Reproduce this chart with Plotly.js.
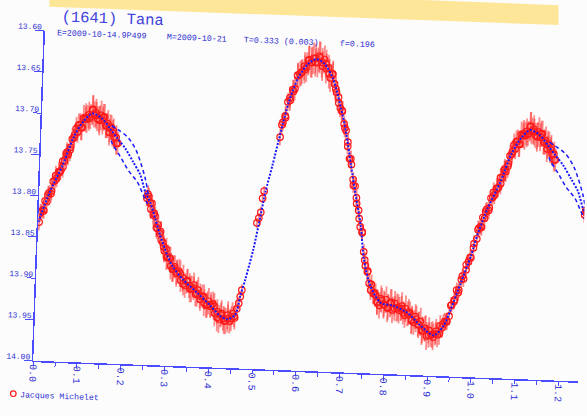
<!DOCTYPE html>
<html>
<head>
<meta charset="utf-8">
<script src="https://cdn.plot.ly/plotly-3.0.1.min.js"></script>
<style>
  html, body { margin:0; padding:0; background:#fcfcfc; overflow:hidden; width:587px; height:416px; }
  #plot { position:absolute; left:0; top:0; width:605px; height:425px;
          transform-origin:0 0; transform:matrix(1,0.038,-0.0355,1,6.6,-15.82); }
</style>
</head>
<body>
<div id="plot"></div>
<script>
// ---- data (phase, magnitude, error) ----
const obsPhase = [
  0.002,0.006,0.010,0.014,0.018,0.022,0.027,0.031,0.035,0.039,0.043,0.047,
  0.051,0.055,0.059,0.063,0.067,0.071,0.075,0.079,0.083,0.087,
  0.091,0.095,0.099,0.103,0.107,0.111,0.115,0.119,0.123,0.127,0.131,0.135,0.139,0.143,0.147,0.151,0.155,0.159,0.163,0.167,0.171,0.175,
  0.246,0.250,0.254,0.258,0.262,0.266,0.270,0.274,0.278,0.282,0.286,0.290,
  0.294,0.298,0.302,0.306,0.310,0.315,0.320,0.325,0.330,0.335,0.340,0.345,
  0.350,0.355,0.360,0.365,0.370,0.375,0.380,0.385,0.390,0.395,0.400,0.405,
  0.410,0.415,0.420,0.425,0.430,0.435,0.440,0.445,0.450,0.455,0.460,
  0.464,0.467,0.470,0.499,0.503,0.507,0.510,0.513,
  0.545,0.550,0.555,0.560,0.565,0.570,0.575,0.580,0.585,0.590,0.595,0.600,
  0.605,0.610,0.615,0.620,0.625,0.630,0.635,0.640,0.645,0.650,0.655,0.660,
  0.665,0.670,0.675,0.680,0.685,0.690,0.695,0.700,0.705,0.710,0.715,0.720,
  0.725,0.730,0.735,0.740,0.745,0.750,
  0.755,0.760,0.765,0.770,0.775,0.780,0.785,0.790,0.795,0.800,0.805,0.810,
  0.815,0.820,0.825,0.830,0.835,0.840,0.845,0.850,0.855,0.860,0.865,0.870,
  0.875,0.880,0.885,0.890,0.895,0.900,0.905,0.910,0.915,0.920,0.925,0.930,
  0.935,0.940,0.945,0.950,0.955,0.960,0.965,0.970,0.975,0.980,0.985,0.990,0.995
];
const obsMag = [
  13.832,13.819,13.817,13.806,13.807,13.796,13.797,13.782,13.781,13.778,13.770,13.769,
  13.757,13.757,13.748,13.749,13.743,13.730,13.728,13.717,13.721,13.712,
  13.716,13.704,13.705,13.705,13.700,13.702,13.694,13.699,13.697,13.704,13.705,13.700,13.706,13.702,13.712,13.710,13.720,13.714,13.721,13.726,13.726,13.733,
  13.798,13.796,13.804,13.804,13.818,13.819,13.833,13.830,13.840,13.848,13.851,13.861,
  13.859,13.868,13.869,13.879,13.883,13.880,13.888,13.885,13.896,13.893,13.902,13.896,
  13.902,13.906,13.905,13.912,13.907,13.914,13.914,13.922,13.925,13.920,13.926,13.923,
  13.934,13.932,13.941,13.934,13.940,13.943,13.940,13.943,13.934,13.937,13.928,
  13.921,13.913,13.905,13.823,13.817,13.810,13.793,13.784,
  13.718,13.700,13.692,13.675,13.673,13.660,13.659,13.643,13.641,13.638,13.631,13.632,
  13.623,13.626,13.621,13.626,13.626,13.620,13.626,13.622,13.633,13.632,13.644,13.640,
  13.651,13.661,13.667,13.680,13.684,13.699,13.707,13.726,13.741,13.748,13.766,13.774,
  13.795,13.803,13.823,13.830,13.853,13.870,
  13.877,13.891,13.892,13.903,13.905,13.914,13.917,13.911,13.916,13.910,13.919,13.914,
  13.922,13.914,13.919,13.922,13.920,13.925,13.920,13.926,13.925,13.934,13.936,13.932,
  13.938,13.935,13.945,13.943,13.952,13.945,13.950,13.953,13.949,13.950,13.939,13.941,
  13.934,13.934,13.927,13.913,13.909,13.895,13.895,13.882,13.881,13.864,13.860,13.855,13.843
];
const obsErr = [
  0.010,0.009,0.010,0.011,0.010,0.009,0.011,0.010,0.010,0.011,0.012,0.011,
  0.012,0.013,0.012,0.013,0.014,0.013,0.012,0.014,0.013,0.014,
  0.015,0.016,0.015,0.017,0.016,0.015,0.018,0.016,0.017,0.015,0.016,0.018,0.017,0.016,0.015,0.017,0.016,0.015,0.016,0.014,0.015,0.014,
  0.010,0.011,0.010,0.011,0.012,0.011,0.012,0.012,0.013,0.012,0.013,0.014,
  0.014,0.015,0.014,0.016,0.015,0.014,0.016,0.015,0.014,0.016,0.015,0.014,
  0.015,0.016,0.014,0.015,0.016,0.015,0.014,0.016,0.015,0.016,0.014,0.015,
  0.016,0.015,0.017,0.016,0.015,0.016,0.017,0.015,0.014,0.013,0.012,
  0.008,0.007,0.007,0.006,0.006,0.007,0.006,0.006,
  0.010,0.011,0.012,0.011,0.013,0.012,0.014,0.015,0.016,0.015,0.017,0.018,
  0.017,0.018,0.019,0.017,0.018,0.019,0.018,0.017,0.018,0.016,0.017,0.015,
  0.014,0.013,0.012,0.011,0.012,0.010,0.011,0.010,0.009,0.010,0.009,0.010,
  0.009,0.010,0.009,0.010,0.009,0.010,
  0.010,0.011,0.012,0.013,0.014,0.015,0.016,0.015,0.017,0.016,0.015,0.017,
  0.016,0.015,0.017,0.016,0.015,0.014,0.016,0.015,0.014,0.016,0.015,0.016,
  0.015,0.017,0.016,0.015,0.017,0.016,0.015,0.016,0.014,0.015,0.013,0.012,
  0.011,0.010,0.010,0.009,0.010,0.009,0.010,0.009,0.010,0.009,0.010,0.009,0.010
];
// second night of observations
const obs2Phase = [
  0.004,0.012,0.020,0.028,0.036,0.044,0.052,0.060,0.068,0.076,0.084,0.092,0.100,0.108,0.116,0.124,0.132,0.140,0.148,0.156,0.164,0.172,
  0.248,0.256,0.264,0.272,0.280,0.288,0.296,0.304,0.312,0.320,0.328,0.336,0.344,0.352,0.360,0.368,0.376,0.384,0.392,0.400,0.408,0.416,0.424,0.432,0.440,0.448,0.456,
  0.548,0.556,0.564,0.572,0.580,0.588,0.596,0.604,0.612,0.620,0.628,0.636,0.644,0.652,0.660,0.668,0.676,0.684,0.692,0.700,0.708,0.716,0.724,0.732,0.740,0.748,
  0.756,0.764,0.772,0.780,0.788,0.796,0.804,0.812,0.820,0.828,0.836,0.844,0.852,0.860,0.868,0.876,0.884,0.892,0.900,0.908,0.916,0.924,0.932,0.940,0.948,0.956,0.964,0.972,0.980,0.988,0.996
];
const obs2Mag = [
  13.821,13.818,13.799,13.794,13.775,13.771,13.764,13.746,13.740,13.725,13.713,13.715,13.703,13.704,13.693,13.700,13.706,13.702,13.712,13.715,13.718,13.733,
  13.793,13.811,13.816,13.834,13.838,13.856,13.869,13.870,13.882,13.886,13.888,13.900,13.897,13.906,13.901,13.911,13.918,13.915,13.924,13.924,13.926,13.939,13.936,13.943,13.936,13.940,13.939,
  13.703,13.694,13.670,13.662,13.642,13.639,13.635,13.624,13.626,13.621,13.618,13.630,13.627,13.639,13.639,13.657,13.674,13.683,13.704,13.721,13.741,13.773,13.788,13.813,13.829,13.863,
  13.876,13.899,13.902,13.913,13.909,13.916,13.920,13.913,13.920,13.919,13.917,13.928,13.924,13.933,13.929,13.939,13.946,13.943,13.951,13.950,13.946,13.949,13.937,13.933,13.914,13.907,13.898,13.878,13.870,13.855,13.838
];
const obs2Err = [
  0.011,0.010,0.011,0.010,0.012,0.011,0.013,0.012,0.014,0.013,0.014,0.016,0.017,0.015,0.017,0.016,0.018,0.016,0.015,0.017,0.015,0.014,
  0.011,0.012,0.012,0.013,0.013,0.014,0.015,0.014,0.016,0.015,0.016,0.014,0.015,0.016,0.015,0.016,0.014,0.015,0.016,0.015,0.016,0.017,0.015,0.016,0.017,0.015,0.014,
  0.011,0.012,0.013,0.014,0.015,0.016,0.017,0.018,0.019,0.018,0.019,0.018,0.017,0.018,0.016,0.015,0.013,0.012,0.011,0.010,0.010,0.009,0.010,0.009,0.010,0.010,
  0.011,0.012,0.013,0.015,0.016,0.015,0.017,0.016,0.015,0.016,0.017,0.015,0.016,0.017,0.015,0.016,0.017,0.016,0.015,0.016,0.015,0.013,0.012,0.010,0.010,0.009,0.010,0.009,0.010,0.009,0.010
];
// Fourier fit curve
const fitPhase = [0.000,0.024,0.052,0.073,0.095,0.115,0.138,0.157,0.174,0.193,0.212,0.229,0.242,0.254,0.267,0.279,0.297,0.311,0.335,0.368,0.399,0.422,0.439,0.457,0.467,0.477,0.493,0.507,0.516,0.530,0.546,0.562,0.581,0.603,0.621,0.640,0.661,0.682,0.695,0.709,0.722,0.736,0.746,0.763,0.788,0.818,0.850,0.881,0.911,0.933,0.948,0.969,0.990,1.000];
const fitMag   = [13.832,13.795,13.761,13.729,13.708,13.698,13.704,13.716,13.727,13.739,13.755,13.770,13.791,13.803,13.823,13.842,13.866,13.880,13.895,13.910,13.925,13.937,13.941,13.935,13.912,13.892,13.855,13.813,13.785,13.752,13.712,13.675,13.646,13.628,13.622,13.627,13.645,13.681,13.709,13.749,13.785,13.821,13.862,13.894,13.914,13.917,13.925,13.940,13.951,13.939,13.919,13.886,13.853,13.832];
// alternative fit branches visible in the data gap
const upperPhase = [0.160,0.173,0.197,0.216,0.228,0.241,0.250];
const upperMag   = [13.712,13.716,13.725,13.739,13.754,13.775,13.797];
const lowerPhase = [0.160,0.163,0.182,0.201,0.223,0.237,0.248];
const lowerMag   = [13.730,13.734,13.749,13.765,13.779,13.794,13.805];
const yTicks = [13.60,13.65,13.70,13.75,13.80,13.85,13.90,13.95,14.00];
const observer = 'Jacques Michelet';

// phased plot shows 1.25 cycles: points of the first quarter cycle are repeated one period later
const WRAP = 0.27;
function wrapPts(p, m, e) {
  const P = p.slice(), M = m.slice(), E = e.slice();
  p.forEach((v, i) => { if (v < WRAP) { P.push(v + 1); M.push(m[i]); E.push(e[i]); } });
  return [P, M, E];
}
function wrapLine(p, m, limit) {
  const P = p.slice(), M = m.slice();
  P.push(null); M.push(null);
  p.forEach((v, i) => { if (v <= limit) { P.push(v + 1); M.push(m[i]); } });
  return [P, M];
}
const [oP, oM, oE] = wrapPts(obsPhase.concat(obs2Phase), obsMag.concat(obs2Mag), obsErr.concat(obs2Err));
const [fP, fM] = wrapLine(fitPhase, fitMag, 0.30);
const [uP, uM] = wrapLine(upperPhase, upperMag, 1);
const [lP, lM] = wrapLine(lowerPhase, lowerMag, 1);

const BLUE = '#1a1aff';
const AX = '#4b4bff';
const TXT = '#2c2cd2';
const FONT = 'Liberation Mono, DejaVu Sans Mono, monospace';

const traces = [
  { x: oP, y: oM, type: 'scatter', mode: 'markers', name: observer, showlegend: false,
    marker: { symbol: 'circle-open', size: 6.5, color: '#ff1a1a', line: { width: 1.2, color: '#ff1a1a' } },
    error_y: { type: 'data', array: oE, visible: true, color: 'rgba(255,50,50,0.55)', thickness: 1.8, width: 0 } },
  { x: uP, y: uM, type: 'scatter', mode: 'lines', showlegend: false,
    line: { color: BLUE, width: 1.5, dash: '4px,3px', shape: 'spline' } },
  { x: lP, y: lM, type: 'scatter', mode: 'lines', showlegend: false,
    line: { color: BLUE, width: 1.5, dash: '4px,3px', shape: 'spline' } },
  { x: fP, y: fM, type: 'scatter', mode: 'lines', showlegend: false,
    line: { color: BLUE, width: 2, dash: '2px,1.5px', shape: 'spline', smoothing: 0.8 } }
];

const W = 545, H = 330;
const layout = {
  width: 605, height: 425,
  margin: { l: 40, r: 20, t: 45, b: 50, pad: 0 },
  paper_bgcolor: '#fcfcfc', plot_bgcolor: '#fcfcfc',
  showlegend: false,
  xaxis: {
    range: [0, 1.245], autorange: false, dtick: 0.1, tick0: 0, tickformat: '.1f',
    tickangle: 90, ticks: 'outside', ticklen: 4, tickcolor: AX, tickwidth: 1,
    minor: { dtick: 0.05, ticks: 'outside', ticklen: 4, tickcolor: AX, tickwidth: 1 },
    showline: true, linecolor: AX, linewidth: 1.5, showgrid: false, zeroline: false,
    tickfont: { family: FONT, size: 10, color: TXT }, ticklabelstandoff: -4
  },
  yaxis: {
    range: [14.0, 13.6], autorange: false, tickvals: yTicks, tickformat: '.2f',
    ticks: 'outside', ticklen: 8, tickcolor: AX, tickwidth: 1,
    showline: true, linecolor: AX, linewidth: 1.5, showgrid: false, zeroline: false,
    tickfont: { family: FONT, size: 8, color: TXT }, ticklabelstandoff: -8, ticklabelshift: 4
  },
  annotations: [
    { text: '(1641) Tana', xref: 'paper', yref: 'paper', x: 0.0266, y: 1.0432, xanchor: 'left', yanchor: 'middle',
      showarrow: false, font: { family: FONT, size: 15.5, color: '#3f3fdc' } },
    { text: 'E=2009-10-14.9P499', xref: 'paper', yref: 'paper', x: 0.0185, y: 0.9965, xanchor: 'left', yanchor: 'middle',
      showarrow: false, font: { family: FONT, size: 8.3, color: TXT } },
    { text: 'M=2009-10-21', xref: 'paper', yref: 'paper', x: 0.2202, y: 0.9965, xanchor: 'left', yanchor: 'middle',
      showarrow: false, font: { family: FONT, size: 8.3, color: TXT } },
    { text: 'T=0.333 (0.003)', xref: 'paper', yref: 'paper', x: 0.3615, y: 0.9965, xanchor: 'left', yanchor: 'middle',
      showarrow: false, font: { family: FONT, size: 8.3, color: TXT } },
    { text: 'f=0.196', xref: 'paper', yref: 'paper', x: 0.5367, y: 0.9965, xanchor: 'left', yanchor: 'middle',
      showarrow: false, font: { family: FONT, size: 8.3, color: TXT } },
    { text: observer, xref: 'paper', yref: 'paper', x: -0.0251, y: -0.1055, xanchor: 'left', yanchor: 'middle',
      showarrow: false, font: { family: FONT, size: 8.2, color: TXT } }
  ],
  shapes: [
    { type: 'path', xref: 'paper', yref: 'paper', layer: 'above',
      path: 'M 0.00523 1.1237 L 0.00631 1.0731 L 0.9406 1.0763 L 0.9383 1.1822 Z',
      fillcolor: '#fee699', line: { width: 0 } },
    { type: 'circle', xref: 'paper', yref: 'paper',
      x0: -0.0345 - 2.8 / W, x1: -0.0345 + 2.8 / W, y0: -0.1021 - 2.8 / H, y1: -0.1021 + 2.8 / H,
      line: { color: '#ff1a1a', width: 1.2 } }
  ]
};

Plotly.newPlot('plot', traces, layout, { staticPlot: true, displayModeBar: false });
</script>
</body>
</html>
